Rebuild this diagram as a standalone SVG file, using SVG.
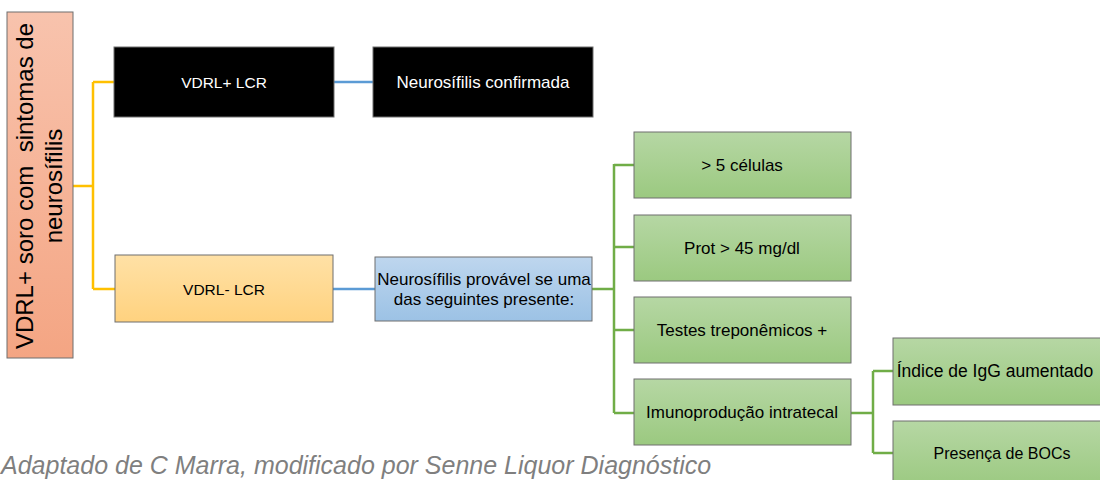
<svg xmlns="http://www.w3.org/2000/svg" width="1100" height="480" viewBox="0 0 1100 480">
<style>
.t{font-family:"Liberation Sans",Arial,sans-serif;text-anchor:middle;dominant-baseline:central}
.w{fill:#ffffff}
.k{fill:#000000}
.box{stroke:#6f6f6f;stroke-width:1}
.c{fill:none;stroke-width:2.5}
.y{stroke:#ffc000}
.b{stroke:#5b9bd5}
.g{stroke:#70ad47}
</style>
<defs>
<linearGradient id="gs" x1="0" y1="0" x2="0" y2="1"><stop offset="0" stop-color="#f8c3ad"/><stop offset="1" stop-color="#f4a583"/></linearGradient>
<linearGradient id="go" x1="0" y1="0" x2="0" y2="1"><stop offset="0" stop-color="#ffe1a6"/><stop offset="1" stop-color="#ffd27f"/></linearGradient>
<linearGradient id="gb" x1="0" y1="0" x2="0" y2="1"><stop offset="0" stop-color="#bed6ee"/><stop offset="1" stop-color="#9cc2e5"/></linearGradient>
<linearGradient id="gg" x1="0" y1="0" x2="0" y2="1"><stop offset="0" stop-color="#b6d7a4"/><stop offset="1" stop-color="#9bc980"/></linearGradient>
</defs>
<g id="connectors">
<path class="c y" d="M73,186 H93 M93,82 V289 M93,82 H114 M93,289 H115"/>
<path class="c b" d="M334,82 H373 M333,289 H375"/>
<path class="c g" d="M592,289 H614 M614,164 V413 M614,165 H634 M614,247 H634 M614,330 H634 M614,413 H634"/>
<path class="c g" d="M851,413 H873 M873,371 V453 M873,371 H893 M873,453 H893"/>
</g>
<g id="n-root">
<rect class="box" x="7" y="12" width="66" height="346" fill="url(#gs)"/>
<text class="t k" transform="translate(0,186) rotate(-90)" style="font-size:24px;dominant-baseline:alphabetic" xml:space="preserve"><tspan x="0" y="33">VDRL+ soro com  sintomas de</tspan><tspan x="0" y="62">neurosífilis</tspan></text>
</g>
<g id="n-vdrlpos">
<rect class="box" x="114" y="47" width="220" height="70" fill="#000000"/>
<text class="t w" x="224" y="82" style="font-size:15.5px">VDRL+ LCR</text>
</g>
<g id="n-confirm">
<rect class="box" x="373" y="47" width="220" height="70" fill="#000000"/>
<text class="t w" x="483" y="82" style="font-size:17px">Neurosífilis confirmada</text>
</g>
<g id="n-vdrlneg">
<rect class="box" x="115" y="255" width="218" height="67" fill="url(#go)"/>
<text class="t k" x="224" y="289" style="font-size:15.5px">VDRL- LCR</text>
</g>
<g id="n-prov">
<rect class="box" x="375" y="257" width="217" height="64" fill="url(#gb)"/>
<text class="t k" x="484" y="279" style="font-size:17px">Neurosífilis provável se uma</text>
<text class="t k" x="484" y="299" style="font-size:17px">das seguintes presente:</text>
</g>
<g id="n-cel">
<rect class="box" x="634" y="132" width="217" height="66" fill="url(#gg)"/>
<text class="t k" x="742" y="165" style="font-size:17px">&gt; 5 células</text>
</g>
<g id="n-prot">
<rect class="box" x="634" y="215" width="217" height="66" fill="url(#gg)"/>
<text class="t k" x="742" y="248" style="font-size:17px">Prot &gt; 45 mg/dl</text>
</g>
<g id="n-trep">
<rect class="box" x="634" y="297" width="217" height="66" fill="url(#gg)"/>
<text class="t k" x="742" y="330" style="font-size:17px">Testes treponêmicos +</text>
</g>
<g id="n-imuno">
<rect class="box" x="634" y="379" width="217" height="66" fill="url(#gg)"/>
<text class="t k" x="742" y="412" style="font-size:17px">Imunoprodução intratecal</text>
</g>
<g id="n-igg">
<rect class="box" x="893" y="338" width="217" height="67" fill="url(#gg)"/>
<text class="t k" x="995" y="371" style="font-size:17.5px">Índice de IgG aumentado</text>
</g>
<g id="n-boc">
<rect class="box" x="893" y="421" width="217" height="67" fill="url(#gg)"/>
<text class="t k" x="1002" y="453" style="font-size:16px">Presença de BOCs</text>
</g>
<text x="1" y="474" style="font-family:'Liberation Sans',Arial,sans-serif;font-style:italic;font-size:25px;fill:#7f7f7f">Adaptado de C Marra, modificado por Senne Liquor Diagnóstico</text>
</svg>
